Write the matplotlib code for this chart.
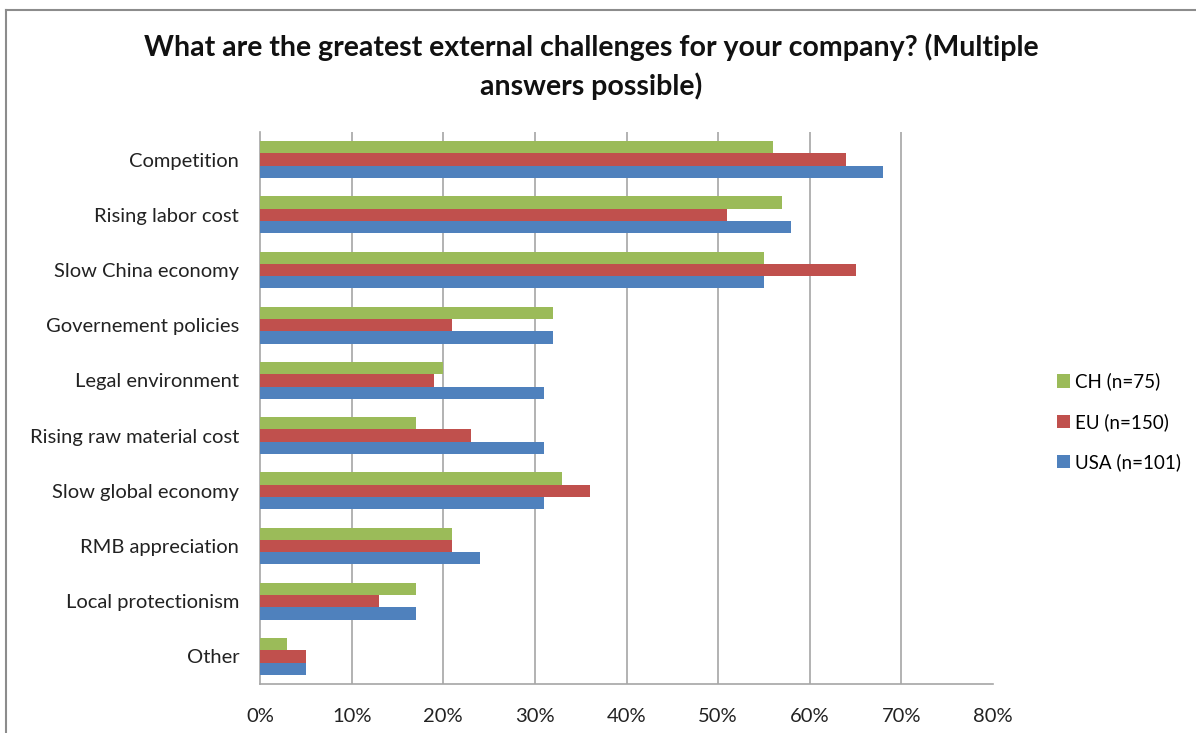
import numpy as np
import matplotlib.pyplot as plt
from matplotlib.lines import Line2D

plt.rcParams['font.family'] = ['Lato', 'DejaVu Sans']

categories = ["Competition", "Rising labor cost", "Slow China economy",
              "Governement policies", "Legal environment",
              "Rising raw material cost", "Slow global economy",
              "RMB appreciation", "Local protectionism", "Other"]
ch = [56, 57, 55, 32, 20, 17, 33, 21, 17, 3]
eu = [64, 51, 65, 21, 19, 23, 36, 21, 13, 5]
usa = [68, 58, 55, 32, 31, 31, 31, 24, 17, 5]
series_names = ["CH (n=75)", "EU (n=150)", "USA (n=101)"]
colors = ["#9BBB59", "#C0504D", "#4F81BD"]

fig = plt.figure(figsize=(11.96, 7.33), dpi=100)
ax = fig.add_axes([260/1196, 1-684/733, 733/1196, 552/733])

y = np.arange(len(categories))
h = 0.222
for k, (vals, name, c) in enumerate(zip([ch, eu, usa], series_names, colors)):
    ax.barh(y + (k-1)*h, vals, height=h, color=c, label=name, zorder=3)

ax.set_xlim(0, 80)
ax.set_ylim(len(categories)-0.5, -0.5)
ax.set_xticks(np.arange(0, 81, 10))
ax.set_xticklabels([f"{v}%" for v in range(0, 81, 10)], fontsize=14.5, color="#222222")
ax.set_yticks(y)
ax.set_yticklabels(categories, fontsize=14.5, color="#222222")
ax.tick_params(axis='x', length=0, pad=17)
ax.tick_params(axis='y', length=0, pad=15)
for v in range(10, 80, 10):
    ax.axvline(v, color="#A6A6A6", lw=1.2, zorder=1)
for s in ["top", "right"]:
    ax.spines[s].set_visible(False)
for s in ["left", "bottom"]:
    ax.spines[s].set_color("#A6A6A6")
    ax.spines[s].set_linewidth(1.2)

fig.text(591/1196, 1-67/733, "What are the greatest external challenges for your company? (Multiple\nanswers possible)",
         ha="center", va="center", fontsize=20.5, fontweight="bold", linespacing=1.5, color="#111111")

leg = ax.legend(loc="center left", bbox_to_anchor=(1040/1196, 1-422/733),
                bbox_transform=fig.transFigure, frameon=False, fontsize=13.5,
                handlelength=0.7, handleheight=0.7, handletextpad=0.25, labelspacing=1.2)

# chart frame (left and top edges visible)
fig.add_artist(Line2D([6/1196, 6/1196], [0, 1-10/733], color="#8C8C8C", lw=1.5, transform=fig.transFigure))
fig.add_artist(Line2D([6/1196, 1], [1-10/733, 1-10/733], color="#8C8C8C", lw=1.5, transform=fig.transFigure))

fig.savefig("out.png", dpi=100)
